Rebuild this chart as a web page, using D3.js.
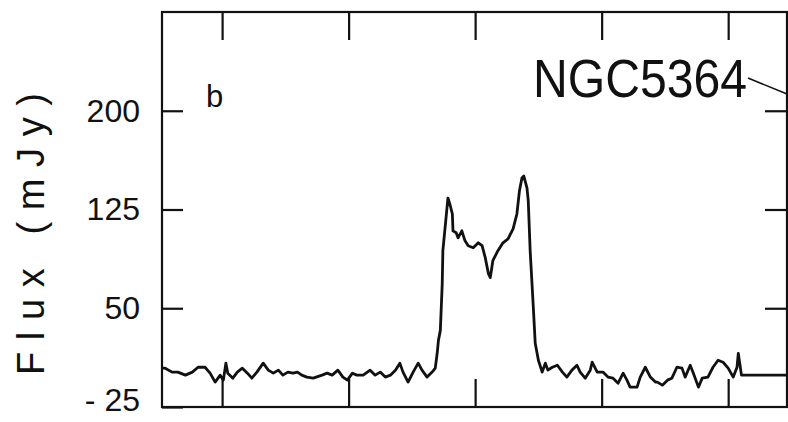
<!doctype html>
<html lang="en">
<head>
<meta charset="utf-8">
<title>NGC5364 HI profile</title>
<script src="https://d3js.org/d3.v7.min.js"></script>
<style>
  html, body { margin: 0; padding: 0; background: #fff; }
  svg { display: block; }
  .lbl { font-family: "Liberation Sans", Arial, sans-serif; fill: #111; }
</style>
</head>
<body>
<div id="output"></div>
<script>
var velocity = [705, 710, 721, 730, 742, 753, 762, 773, 781, 789, 797, 802, 806, 809, 817, 824, 832, 840, 847, 855,
  865, 873, 881, 889, 896, 904, 912, 919, 926, 934, 944, 958, 966, 974, 983, 991, 998, 1006, 1013, 1023,
  1034, 1042, 1050, 1058, 1066, 1074, 1081, 1086, 1094, 1102, 1110, 1116, 1124, 1132, 1137, 1140, 1142,
  1145, 1148, 1149, 1154, 1157, 1160, 1164, 1165, 1170, 1173, 1179, 1184, 1189, 1197, 1205, 1211, 1216,
  1221, 1224, 1228, 1236, 1244, 1252, 1260, 1266, 1270, 1274, 1277, 1282, 1284, 1287, 1292, 1295, 1300,
  1306, 1311, 1315, 1322, 1330, 1338, 1345, 1353, 1361, 1366, 1374, 1382, 1385, 1393, 1402, 1410, 1418,
  1426, 1434, 1440, 1445, 1456, 1461, 1469, 1477, 1485, 1488, 1496, 1504, 1511, 1519, 1527, 1532, 1540,
  1545, 1553, 1559, 1568, 1576, 1584, 1592, 1600, 1608, 1614, 1616, 1621, 1693];
var flux = [4.5, 4.5, 1.5, 1.5, -0.8, 1.5, 5.2, 5.2, 0.7, -6.1, -0.8, -4.6, 8.3, 0.7, -3.1, 1.5, 4.5, 0.7, -3.1, 1.5,
  8.3, 3.0, 0.7, 3.0, -0.8, 1.5, 0.7, 1.5, -0.8, -2.3, -3.1, -0.8, 0.7, -0.8, 3.0, -2.3, -4.6, 0.7, -0.8, -0.8,
  3.0, -0.8, 1.5, -2.3, -0.8, 3.0, 8.3, 1.5, -6.1, 1.5, 8.3, 3.0, -2.3, 1.5, 4.5, 15.8, 25.6,
  33.2, 68.7, 93.7, 118.6, 133.7, 129.2, 121.6, 108.8, 107.3, 103.5, 108.8, 101.2, 97.5, 95.9, 99.7, 97.5, 88.4,
  76.3, 73.3, 86.1, 93.7, 99.7, 102.7, 110.3, 121.6, 139.0, 148.9, 150.4, 141.3, 131.5, 93.7, 50.6, 23.4, 10.5,
  1.5, 8.3, 3.0, 5.2, 6.7, 1.5, -2.3, 3.0, 6.7, 1.5, -3.1, 3.0, 9.0, 1.5, 1.5, -2.3, -3.1,
  -6.9, 0.7, -4.6, -9.9, -9.9, -2.3, 5.2, -2.3, -6.1, -6.1, -8.4, -4.6, -3.1, 5.2, 4.5, -2.3, 6.7,
  0.7, -9.9, -3.1, -2.3, 5.2, 10.5, 9.0, 4.5, -2.3, 5.2, 15.8, -0.8, -0.8];

var xTicks = [800, 1000, 1200, 1400, 1600];
var yTicks = [-25, 50, 125, 200];
var yLabel = "Flux (mJy)";
var panel = "b";
var galaxy = "NGC5364";

var W = 788, H = 422;
var pL = 162, pR = 787, pT = 12, pB = 407;

var x = d3.scaleLinear().domain([705, 1693]).range([pL, pR]);
var y = d3.scaleLinear().domain([-25, 275]).range([pB, pT]);

var svg = d3.select("#output").append("svg")
    .attr("width", W)
    .attr("height", H);

// ticks
function style(g) {
    g.select(".domain").remove();
    g.selectAll("line").attr("stroke", "#111").attr("stroke-width", 2.2);
}

svg.append("g")
    .attr("transform", "translate(" + pL + ",0)")
    .call(d3.axisLeft(y).tickValues(yTicks).tickSizeInner(-21).tickSizeOuter(0).tickPadding(22)
        .tickFormat(function (d) { return d < 0 ? "- " + Math.abs(d) : d; }))
    .call(style)
    .call(function (g) {
        g.selectAll("text").attr("fill", "#111")
            .attr("font-size", 32).attr("font-family", "Liberation Sans, Arial, sans-serif");
        // lowest label sits on the frame corner, lift it a little
        g.selectAll(".tick").filter(function (d) { return d < 0; }).select("text").attr("dy", "0.1em");
    });

svg.append("g")
    .attr("transform", "translate(" + pR + ",0)")
    .call(d3.axisRight(y).tickValues([50, 125, 200]).tickSizeInner(-22).tickSizeOuter(0).tickFormat(""))
    .call(style);

svg.append("g")
    .attr("transform", "translate(0," + pT + ")")
    .call(d3.axisTop(x).tickValues(xTicks).tickSizeInner(-28).tickSizeOuter(0).tickFormat(""))
    .call(style);

svg.append("g")
    .attr("transform", "translate(0," + pB + ")")
    .call(d3.axisBottom(x).tickValues(xTicks).tickSizeInner(-28).tickSizeOuter(0).tickFormat(""))
    .call(style);

// frame
svg.append("rect")
    .attr("x", pL).attr("y", pT)
    .attr("width", pR - pL).attr("height", pB - pT)
    .attr("fill", "none").attr("stroke", "#111").attr("stroke-width", 2.2);

// spectrum
var pts = velocity.map(function (v, i) { return [v, flux[i]]; });
var line = d3.line()
    .x(function (d) { return x(d[0]); })
    .y(function (d) { return y(d[1]); });

svg.append("path")
    .datum(pts)
    .attr("d", line)
    .attr("fill", "none")
    .attr("stroke", "#111")
    .attr("stroke-width", 2.8)
    .attr("stroke-linejoin", "round");

// labels
svg.append("text")
    .attr("class", "lbl")
    .attr("x", 206).attr("y", 107)
    .attr("font-size", 31)
    .text(panel);

svg.append("text")
    .attr("class", "lbl")
    .attr("x", 533).attr("y", 97)
    .attr("font-size", 54)
    .attr("textLength", 214)
    .attr("lengthAdjust", "spacingAndGlyphs")
    .text(galaxy);

svg.append("line")
    .attr("x1", 748).attr("y1", 78)
    .attr("x2", 787).attr("y2", 94)
    .attr("stroke", "#111").attr("stroke-width", 1.6);

svg.append("text")
    .attr("class", "lbl")
    .attr("transform", "translate(44,234) rotate(-90)")
    .attr("text-anchor", "middle")
    .attr("font-size", 38)
    .attr("textLength", 282)
    .attr("lengthAdjust", "spacing")
    .text(yLabel);
</script>
</body>
</html>
